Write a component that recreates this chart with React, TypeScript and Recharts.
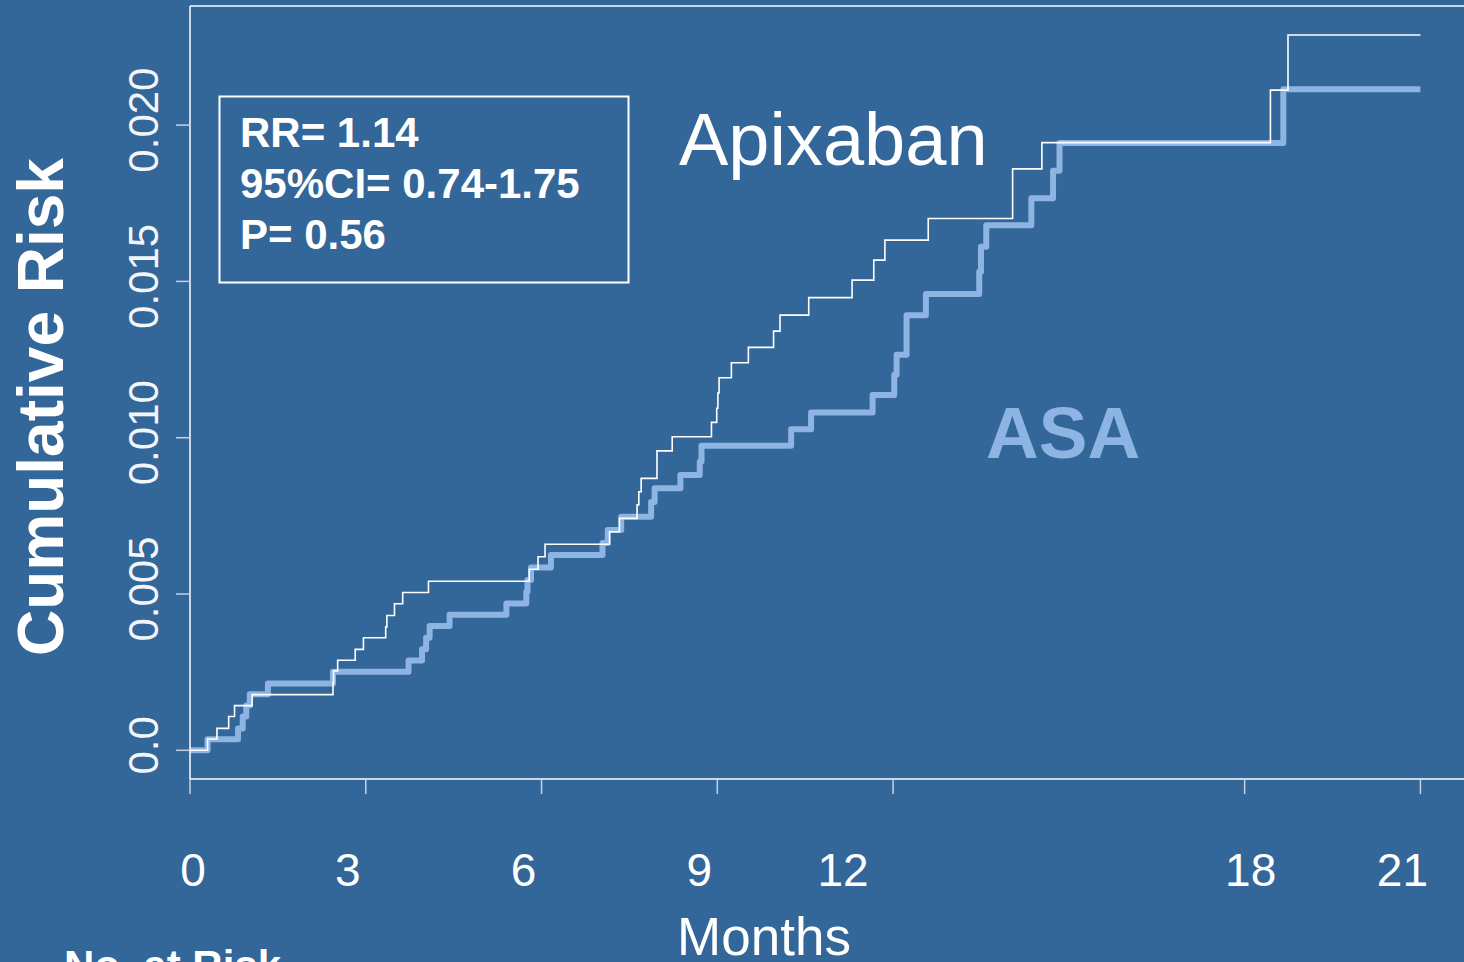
import { LineChart, Line, XAxis, YAxis, ReferenceLine } from "recharts";

const monthTicks = [0, 3, 6, 9, 12, 18, 21];
const riskTicks = [0, 0.005, 0.01, 0.015, 0.02];

const apixabanMonths = [
  0, 0.3, 0.46, 0.66, 0.76, 1.06, 2.44, 2.45, 2.52, 2.82, 2.96, 3.34, 3.36, 3.49, 3.63,
  4.07, 5.79, 5.94, 6.06, 7.16, 7.33, 7.63, 7.66, 7.7, 7.97, 8.23, 8.9, 8.99, 9.01, 9.03,
  9.24, 9.53, 9.96, 10.07, 10.56, 11.3, 11.67, 11.86, 12.6, 14.04, 14.54, 18.44, 18.74, 21,
];
const apixabanRisk = [
  0, 0.00036, 0.0007, 0.00108, 0.00143, 0.00178, 0.00215, 0.00254, 0.00288, 0.00323,
  0.0036, 0.00395, 0.00431, 0.00469, 0.00505, 0.00541, 0.00579, 0.00619, 0.00659, 0.00699,
  0.00742, 0.00785, 0.00827, 0.0087, 0.00958, 0.01003, 0.01049, 0.01094, 0.01143, 0.01192,
  0.0124, 0.01289, 0.01341, 0.01392, 0.01448, 0.01504, 0.01568, 0.01632, 0.01701, 0.0186,
  0.01944, 0.02112, 0.02288, 0.02288,
];

const asaMonths = [
  0, 0.3, 0.82, 0.9, 0.96, 1.02, 1.33, 2.44, 3.73, 3.96, 4.03, 4.09, 4.43, 5.4, 5.74, 5.76,
  5.82, 6.16, 7.04, 7.13, 7.36, 7.87, 7.93, 8.37, 8.7, 8.73, 10.26, 10.6, 11.65, 12.02,
  12.06, 12.23, 12.56, 13.47, 13.5, 13.59, 14.36, 14.73, 14.84, 18.66, 21,
];
const asaRisk = [
  0, 0.00035, 0.0007, 0.00108, 0.00143, 0.00179, 0.00214, 0.00251, 0.00287, 0.00323,
  0.0036, 0.00398, 0.00434, 0.0047, 0.00507, 0.00545, 0.00585, 0.00625, 0.00663, 0.00705,
  0.00747, 0.00794, 0.00838, 0.00881, 0.00923, 0.00974, 0.01027, 0.01081, 0.01137, 0.01201,
  0.01265, 0.01392, 0.0146, 0.01531, 0.01611, 0.0168, 0.01766, 0.01854, 0.01943, 0.02115,
  0.02115,
];

const statLines = ["RR= 1.14", "95%CI= 0.74-1.75", "P= 0.56"];

const apixabanData = apixabanMonths.map((m, i) => ({ month: m, risk: apixabanRisk[i] }));
const asaData = asaMonths.map((m, i) => ({ month: m, risk: asaRisk[i] }));

const BG = "#336699";
const ASA_COLOR = "#8db4e2";
const FONT = '"Liberation Sans", Arial, Helvetica, sans-serif';
const Y_MIN = -0.000918;
const Y_MAX = 0.02381;

// label nudges so numbers sit where the original slide put them
const tickDx: Record<number, number> = { 0: 3, 12: -50, 18: 6 };

function MonthTick(props: any) {
  const { x, payload } = props;
  const dx = tickDx[payload.value] ?? -18;
  return (
    <text x={x + dx} y={886} fill="#fff" fontSize={46} fontFamily={FONT} textAnchor="middle">
      {payload.value}
    </text>
  );
}

function RiskTick(props: any) {
  const { y, payload } = props;
  const label = payload.value === 0 ? "0.0" : Number(payload.value).toFixed(3);
  return (
    <text
      transform={`translate(158, ${y - 5}) rotate(-90)`}
      fill="#f2f5fa"
      fontSize={42}
      fontFamily={FONT}
      textAnchor="middle"
    >
      {label}
    </text>
  );
}

export default function App() {
  return (
    <div
      style={{
        position: "fixed",
        left: 0,
        top: 0,
        width: 1464,
        height: 962,
        background: BG,
        overflow: "hidden",
      }}
    >
      <LineChart width={1479} height={962} margin={{ top: 6, right: 0, bottom: 0, left: 0 }}>
        <XAxis
          dataKey="month"
          type="number"
          domain={[0, 22]}
          ticks={monthTicks}
          allowDataOverflow
          height={183}
          tickSize={15}
          axisLine={{ stroke: "#ffffff", strokeWidth: 1.5 }}
          tickLine={{ stroke: "#c4d2e4", strokeWidth: 1.5 }}
          tick={<MonthTick />}
        />
        <YAxis
          type="number"
          domain={[Y_MIN, Y_MAX]}
          ticks={riskTicks}
          allowDataOverflow
          width={190}
          tickSize={14}
          axisLine={{ stroke: "#ffffff", strokeWidth: 1.5 }}
          tickLine={{ stroke: "#c4d2e4", strokeWidth: 1.5 }}
          tick={<RiskTick />}
        />
        <ReferenceLine y={Y_MAX} stroke="#ffffff" strokeWidth={1.5} />
        <Line
          data={asaData}
          dataKey="risk"
          name="ASA"
          type="stepAfter"
          stroke={ASA_COLOR}
          strokeWidth={6}
          strokeLinejoin="round"
          dot={false}
          activeDot={false}
          isAnimationActive={false}
        />
        <Line
          data={apixabanData}
          dataKey="risk"
          name="Apixaban"
          type="stepAfter"
          stroke="#ffffff"
          strokeWidth={1.6}
          dot={false}
          activeDot={false}
          isAnimationActive={false}
        />
      </LineChart>

      <svg
        width={1464}
        height={962}
        style={{ position: "absolute", left: 0, top: 0, pointerEvents: "none" }}
        fontFamily={FONT}
      >
        <text
          transform="translate(63, 407) rotate(-90)"
          fill="#fff"
          fontSize={64}
          fontWeight="bold"
          textAnchor="middle"
        >
          Cumulative Risk
        </text>
        <rect x={219.5} y={96.5} width={409} height={186} fill="none" stroke="#fff" strokeWidth={2} />
        {statLines.map((s, i) => (
          <text key={s} x={240} y={147 + i * 51} fill="#fff" fontSize={42} fontWeight="bold">
            {s}
          </text>
        ))}
        <text x={679} y={165} fill="#fff" fontSize={74}>
          Apixaban
        </text>
        <text x={986} y={458} fill={ASA_COLOR} fontSize={73} fontWeight="bold">
          ASA
        </text>
        <text x={764} y={955} fill="#fff" fontSize={53} textAnchor="middle">
          Months
        </text>
        <text x={64} y={980} fill="#fff" fontSize={42} fontWeight="bold">
          No. at Risk
        </text>
      </svg>
    </div>
  );
}
